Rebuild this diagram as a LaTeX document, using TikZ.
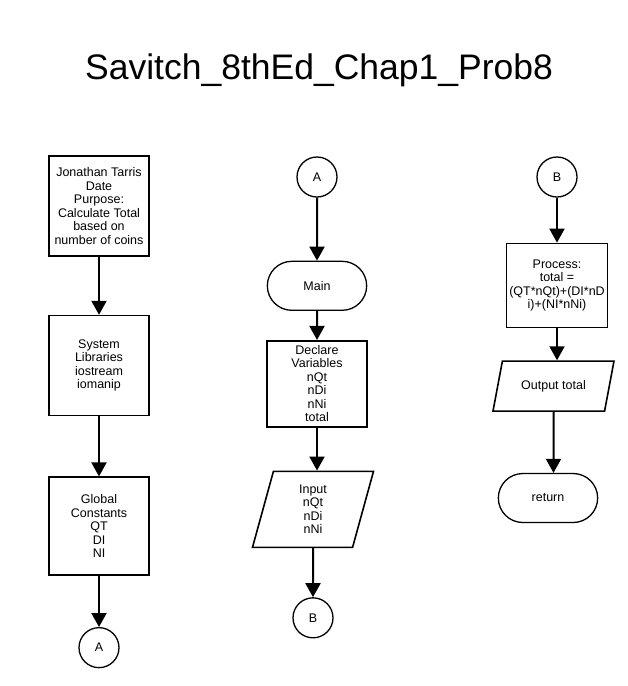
\documentclass[tikz,border=0pt]{standalone}
\usepackage{fontspec}
\setmainfont{Liberation Sans}
\usetikzlibrary{shapes.geometric, shapes.misc, arrows.meta, positioning}
\tikzstyle{boxes} = [rectangle, minimum width=100pt, minimum height=100pt, align=center, inner sep=2pt, draw=black, line width=1.6pt, font=\fontsize{12.5}{13.5}\selectfont]
\tikzstyle{term} = [rounded rectangle, minimum width=106pt, minimum height=49pt, draw=black, line width=1.3pt, font=\fontsize{12.5}{13.5}\selectfont]
\tikzstyle{io} = [trapezium, trapezium stretches body, minimum width=121pt, align=center, inner sep=2pt, draw=black, line width=1.6pt, font=\fontsize{12.5}{13.5}\selectfont]
\tikzstyle{conn} = [circle, minimum size=40pt, inner sep=0pt, draw=black, line width=1.3pt, font=\fontsize{12.5}{13.5}\selectfont]
\tikzstyle{arrow} = [line width=2pt, -{Triangle[length=14pt,width=15pt]}]

\begin{document}
\begin{tikzpicture}[x=1pt, y=-1pt]

    \useasboundingbox (0,0) rectangle (628,686);

    \node (title) at (319,70) {\fontsize{35.5}{40}\selectfont Savitch\_8thEd\_Chap1\_Prob8};

    % left column
    \node (info) [boxes] at (99,206) {Jonathan Tarris\\Date\\Purpose:\\Calculate Total\\based on\\number of coins};

    \node (sys) [boxes, below=58pt of info] {System\\Libraries\\iostream\\iomanip};

    \node (glob) [boxes, below=60pt of sys, minimum height=98pt] {Global\\Constants\\QT\\DI\\NI};

    \node (conA) [conn, below=51pt of glob] {A};

    % middle column
    \node (conA2) [conn] at (317,177) {A};

    \node (main) [term, below=63pt of conA2] {Main};

    \node (decl) [boxes, below=29pt of main, minimum height=86pt] {Declare\\Variables\\nQt\\nDi\\nNi\\total};

    \node (input) [io, below=43pt of decl, xshift=-4pt, minimum height=76pt, trapezium left angle=68.5, trapezium right angle=111.5] {Input\\nQt\\nDi\\nNi};

    \node (conB) [conn, below=49pt of input] {B};

    % right column
    \node (conB2) [conn] at (557,177) {B};

    \node (proc) [boxes, below=45pt of conB2, minimum width=101pt, minimum height=84pt] {Process:\\total =\\(QT*nQt)+(DI*nD\\i)+(NI*nNi)};

    \node (out) [io, below=32pt of proc, xshift=-3.5pt, minimum height=50pt, trapezium left angle=59, trapezium right angle=121] {Output total};

    \node (ret) [term, below=61pt of out, xshift=-5.5pt] {return};

    \draw[arrow] (info) -- (sys);
    \draw[arrow] (sys) -- (glob);
    \draw[arrow] (glob) -- (conA);
    \draw[arrow] (conA2) -- (main);
    \draw[arrow] (main) -- (decl);
    \draw[arrow] (decl) -- (decl |- input.north);
    \draw[arrow] (input) -- (conB);
    \draw[arrow] (conB2) -- (proc);
    \draw[arrow] (proc) -- (proc |- out.north);
    \draw[arrow] (out) -- (out |- ret.north);

\end{tikzpicture}
\end{document}
